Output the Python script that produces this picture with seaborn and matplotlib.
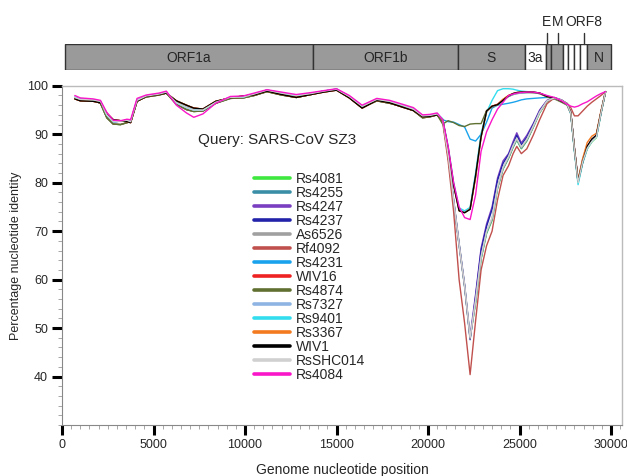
import numpy as np
import pandas as pd
import matplotlib
matplotlib.use("Agg")
import matplotlib.pyplot as plt
import seaborn as sns
from matplotlib.patches import Rectangle
from matplotlib.ticker import MultipleLocator

sns.set_style("ticks")
plt.rcParams["font.family"] = ["Liberation Sans", "DejaVu Sans"]

# window centres (nt) along the genome
front_pos = [700, 1000, 1700, 2100, 2450, 2800, 3200, 3550, 3750, 4100, 4600, 5300,
             5700, 6250, 6800, 7200, 7700, 8400, 9200, 9900, 10500, 11200, 12000, 12800,
             13600, 14300, 15000, 15700, 16400, 17200, 17900, 18600, 19200, 19700, 20100, 20500]
tail_pos = [20800, 21100, 21400, 21700, 22000, 22300, 22600, 22900, 23200, 23500, 23800,
            24100, 24400, 24650, 24850, 25100, 25400, 25750, 26100, 26500, 26900, 27300,
            27600, 27800, 28000, 28200, 28450, 28700, 28950, 29200, 29450, 29700]

# ORF1ab part, shared by groups of strains
front_a = [97.6, 97.2, 97.1, 96.8, 94.0, 92.6, 92.7, 92.9, 92.6, 97.0, 97.9, 98.3,
           98.7, 96.5, 95.5, 95.0, 95.0, 96.6, 97.6, 97.7, 98.3, 99.1, 98.5, 98.0,
           98.4, 98.9, 99.3, 97.8, 95.8, 97.2, 96.8, 96.0, 95.2, 93.8, 93.9, 94.2]
front_k = [97.3, 96.9, 96.8, 96.5, 94.3, 93.0, 92.8, 92.6, 92.4, 96.8, 97.8, 98.2,
           98.5, 96.9, 96.0, 95.4, 95.2, 96.8, 97.5, 97.9, 98.1, 98.9, 98.2, 97.6,
           98.2, 98.7, 99.1, 97.5, 95.4, 97.0, 96.5, 95.6, 94.9, 93.6, 93.7, 94.0]
front_m = [98.0, 97.5, 97.3, 97.0, 94.5, 92.9, 92.8, 93.1, 93.0, 97.4, 98.1, 98.5,
           98.9, 96.0, 94.4, 93.5, 94.2, 96.4, 97.8, 97.9, 98.5, 99.2, 98.7, 98.2,
           98.6, 99.0, 99.4, 98.0, 96.0, 97.4, 97.0, 96.2, 95.5, 94.0, 94.1, 94.4]
front_r = [97.5, 97.0, 97.0, 96.4, 93.4, 92.1, 92.0, 92.4, 92.6, 96.9, 97.7, 98.1,
           98.5, 96.2, 95.1, 94.7, 94.8, 96.4, 97.4, 97.5, 98.0, 98.8, 98.1, 97.6,
           98.2, 98.8, 99.2, 97.6, 95.5, 96.9, 96.4, 95.7, 94.9, 93.4, 93.6, 94.0]

# S gene to 3' end, per strain
tail_rs4081 = [92.9, 85.4, 76.3, 67.4, 58.8, 48.0, 55.2, 64.2, 69.5, 72.2, 78.8, 82.8, 85.0, 87.3, 88.8, 87.0,
               88.6, 91.4, 94.4, 96.7, 97.4, 97.0, 96.2, 94.4, 86.8, 80.0, 84.2, 87.0, 88.4, 89.3, 94.3, 98.8]
tail_rs4255 = [93.0, 85.5, 76.1, 67.1, 58.6, 47.9, 55.4, 64.4, 69.7, 72.4, 78.9, 82.9, 85.1, 87.4, 88.9, 87.1,
               88.7, 91.5, 94.5, 96.8, 97.5, 97.0, 96.2, 94.5, 87.0, 80.1, 84.4, 87.2, 88.6, 89.5, 94.4, 98.8]
tail_rs4247 = [93.1, 85.8, 76.5, 67.5, 59.0, 48.3, 57.0, 66.5, 71.5, 75.0, 81.0, 84.5, 86.0, 88.5, 90.3, 88.2,
               89.8, 92.2, 95.0, 97.0, 97.6, 97.1, 96.3, 94.6, 87.2, 80.5, 84.8, 87.5, 88.9, 89.8, 94.6, 98.8]
tail_rs4237 = [93.0, 85.6, 76.2, 67.2, 58.7, 47.6, 56.5, 66.0, 71.0, 74.5, 80.5, 84.0, 85.8, 88.0, 89.8, 87.8,
               89.4, 92.0, 94.8, 96.9, 97.5, 97.0, 96.2, 94.5, 87.0, 80.3, 84.6, 87.4, 88.8, 89.7, 94.5, 98.8]
tail_as6526 = [93.0, 85.5, 76.0, 67.0, 58.5, 47.8, 55.5, 64.5, 69.8, 72.5, 79.0, 83.0, 85.2, 87.5, 89.0, 87.2,
               88.8, 91.5, 94.5, 96.8, 97.5, 97.0, 96.2, 94.5, 87.0, 80.2, 84.5, 87.3, 88.7, 89.6, 94.5, 98.8]
tail_rf4092 = [92.5, 84.5, 74.0, 60.0, 51.0, 40.4, 51.5, 62.0, 67.0, 70.0, 76.5, 81.5, 83.5, 86.0, 87.5, 86.0,
               87.0, 89.8, 93.0, 96.3, 97.5, 97.0, 96.4, 95.5, 93.8, 93.8, 94.8, 95.8, 96.6, 97.3, 98.0, 98.8]
tail_rs4231 = [93.0, 92.6, 92.5, 92.0, 91.5, 89.0, 88.6, 90.0, 92.5, 95.4, 96.0, 96.2, 96.4, 96.6, 96.8, 97.1,
               97.3, 97.4, 97.5, 97.6, 97.5, 96.9, 96.2, 94.4, 86.9, 80.2, 84.3, 87.2, 88.6, 89.5, 94.4, 98.8]
tail_wiv16 = [93.0, 87.1, 79.6, 74.3, 73.9, 74.6, 81.2, 89.6, 94.8, 95.8, 96.2, 97.2, 98.0, 98.4, 98.6, 98.7,
              98.7, 98.6, 98.4, 97.8, 97.4, 96.8, 96.1, 94.4, 86.9, 80.2, 84.2, 87.4, 88.9, 89.7, 94.5, 98.8]
tail_rs4874 = [92.1, 92.8, 92.4, 91.8, 91.6, 92.1, 92.2, 92.2, 94.9, 95.6, 96.1, 97.0, 97.8, 98.2, 98.4, 98.5,
               98.6, 98.6, 98.4, 97.7, 97.3, 96.6, 96.0, 94.3, 86.8, 80.1, 84.2, 87.1, 88.6, 89.5, 94.3, 98.8]
tail_rs7327 = [93.0, 87.2, 79.8, 74.5, 74.0, 74.8, 81.3, 89.5, 94.6, 95.7, 96.0, 97.0, 97.8, 98.2, 98.4, 98.5,
               98.6, 98.6, 98.4, 97.8, 97.4, 96.8, 96.1, 94.3, 86.8, 80.1, 84.2, 87.2, 88.6, 89.5, 94.3, 98.8]
tail_rs9401 = [93.2, 87.5, 80.0, 74.8, 74.2, 74.9, 82.0, 90.2, 94.5, 97.0, 99.0, 99.4, 99.4, 99.3, 99.1, 98.9,
               98.8, 98.7, 98.5, 97.9, 97.5, 96.9, 96.3, 94.2, 86.5, 79.6, 84.0, 87.0, 88.5, 89.4, 94.3, 98.8]
tail_rs3367 = [93.0, 87.0, 79.5, 74.2, 73.8, 74.6, 81.0, 89.4, 94.7, 95.8, 96.1, 97.2, 98.0, 98.4, 98.6, 98.7,
               98.7, 98.7, 98.5, 97.8, 97.5, 96.8, 96.2, 94.5, 87.2, 80.6, 85.0, 88.3, 89.6, 90.2, 94.8, 98.8]
tail_wiv1 = [93.0, 87.0, 79.5, 74.2, 73.8, 74.5, 81.5, 89.5, 94.8, 95.8, 96.1, 97.0, 97.9, 98.4, 98.6, 98.7,
             98.7, 98.7, 98.5, 97.8, 97.5, 96.8, 96.2, 94.5, 87.0, 80.3, 84.3, 87.5, 89.0, 89.8, 94.5, 98.8]
tail_rsshc014 = [93.0, 85.7, 76.4, 67.3, 58.9, 48.1, 55.8, 64.8, 70.0, 72.8, 79.2, 83.2, 85.4, 87.7, 89.2, 87.4,
                 89.0, 91.7, 94.6, 96.9, 97.5, 97.0, 96.2, 94.4, 86.9, 80.0, 84.3, 87.1, 88.5, 89.4, 94.4, 98.8]
tail_rs4084 = [93.0, 87.5, 80.0, 75.0, 72.8, 72.4, 77.5, 86.5, 90.5, 93.0, 95.2, 96.6, 98.0, 98.3, 98.5, 98.6,
               98.7, 98.7, 98.5, 98.0, 97.6, 96.9, 96.2, 95.8, 95.6, 95.8, 96.3, 96.7, 97.3, 97.9, 98.4, 98.8]

strains = ["Rs4081", "Rs4255", "Rs4247", "Rs4237", "As6526", "Rf4092", "Rs4231", "WIV16",
           "Rs4874", "Rs7327", "Rs9401", "Rs3367", "WIV1", "RsSHC014", "Rs4084"]
series = {
    "Rs4081": front_r + tail_rs4081, "Rs4255": front_r + tail_rs4255,
    "Rs4247": front_a + tail_rs4247, "Rs4237": front_a + tail_rs4237,
    "As6526": front_k + tail_as6526, "Rf4092": front_r + tail_rf4092,
    "Rs4231": front_a + tail_rs4231, "WIV16": front_k + tail_wiv16,
    "Rs4874": front_r + tail_rs4874, "Rs7327": front_a + tail_rs7327,
    "Rs9401": front_a + tail_rs9401, "Rs3367": front_k + tail_rs3367,
    "WIV1": front_k + tail_wiv1, "RsSHC014": front_a + tail_rsshc014,
    "Rs4084": front_m + tail_rs4084,
}
colors = ["#3ee83e", "#3a8ea6", "#7a3fc0", "#2222aa", "#a0a0a0", "#c0504d", "#1aa3ec", "#ee2222",
          "#5f7030", "#8eb4e3", "#33ddee", "#f47a20", "#000000", "#d0d0d0", "#f916c8"]

# genome map (start, end, fill, label)
genes = [(190, 13700, "#9a9a9a", "ORF1a"), (13700, 21640, "#9a9a9a", "ORF1b"),
         (21640, 25280, "#9a9a9a", "S"), (25280, 26420, "white", "3a"),
         (26420, 26720, "#9a9a9a", ""), (26720, 27370, "#9a9a9a", ""),
         (27370, 27650, "white", ""), (27650, 27950, "white", ""),
         (27950, 28300, "white", ""), (28300, 28700, "white", ""),
         (28700, 30000, "#9a9a9a", "N")]
top_labels = [(26500, "E"), (27100, "M"), (28500, "ORF8")]

pos = front_pos + tail_pos
df = pd.DataFrame({
    "pos": np.tile(pos, len(strains)),
    "identity": np.concatenate([series[s] for s in strains]),
    "strain": np.repeat(strains, len(pos)),
})

W, H = 627, 476
fig = plt.figure(figsize=(W / 100, H / 100), dpi=100)
ax = fig.add_axes([62 / W, (H - 425) / H, 560 / W, 339.2 / H])
gax = fig.add_axes([62 / W, (H - 70) / H, 560 / W, 26 / H])

sns.lineplot(data=df, x="pos", y="identity", hue="strain", hue_order=strains,
             palette=colors, estimator=None, sort=False, linewidth=1.0, ax=ax)

ax.set_xlim(0, 30600)
ax.set_ylim(30, 100)
ax.xaxis.set_major_locator(MultipleLocator(5000))
ax.xaxis.set_minor_locator(MultipleLocator(500))
ax.yaxis.set_minor_locator(MultipleLocator(2))
ax.set_yticks([40, 50, 60, 70, 80, 90, 100])
ax.tick_params(which="major", length=7, width=2.2, color="black", labelsize=9, pad=3)
ax.tick_params(which="minor", length=3, width=0.6, color="#999999")
for side in ["left", "bottom"]:
    ax.spines[side].set_color("#888888")
    ax.spines[side].set_linewidth(0.8)
for side in ["top", "right"]:
    ax.spines[side].set_visible(True)
    ax.spines[side].set_color("#bbbbbb")
    ax.spines[side].set_linewidth(1.0)
ax.set_xlabel("Genome nucleotide position", fontsize=10, labelpad=9)
ax.set_ylabel("Percentage nucleotide identity", fontsize=9, labelpad=4)

ax.text(7430, 88.8, "Query: SARS-CoV SZ3", fontsize=11, va="center", ha="left")

sns.move_legend(ax, "upper left", bbox_to_anchor=(0.343, 0.745), frameon=False, title=None,
                fontsize=10, handlelength=2.6, labelspacing=0.0, handletextpad=0.4,
                borderpad=0, borderaxespad=0)
for line in ax.get_legend().get_lines():
    line.set_linewidth(2.6)

# genome map
gax.set_xlim(0, 30600)
gax.set_ylim(0, 1)
gax.axis("off")
for start, end, fill, label in genes:
    gax.add_patch(Rectangle((start, 0), end - start, 1, facecolor=fill,
                            edgecolor="#333333", linewidth=1.0))
    if label:
        gax.text((start + end) / 2, 0.45, label, ha="center", va="center", fontsize=10)
for x, label in top_labels:
    gax.plot([x, x], [1.0, 1.42], color="#333333", linewidth=1.0, clip_on=False)
    gax.text(x, 1.85, label, ha="center", va="center", fontsize=10)

fig.savefig("out.png", dpi=100)
